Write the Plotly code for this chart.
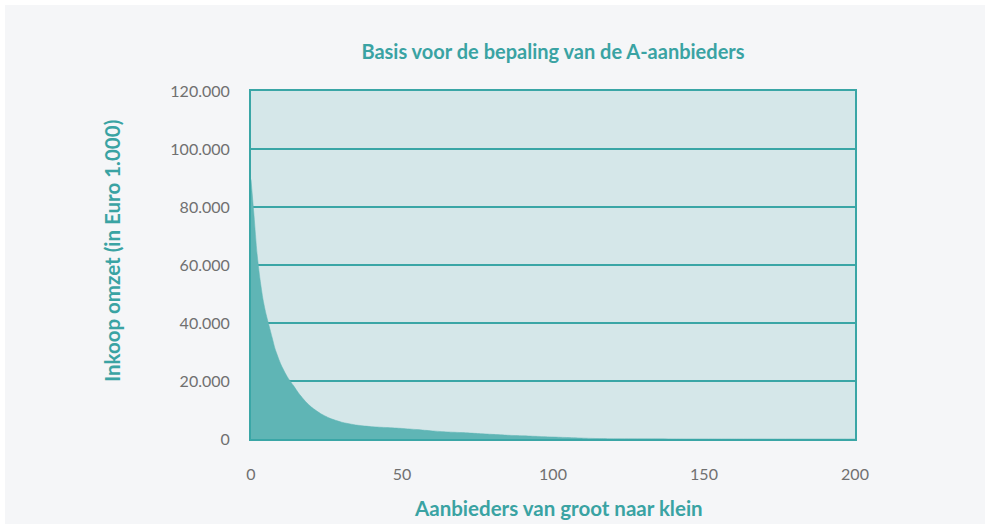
import plotly.graph_objects as go

# Data (supplier rank vs. purchase turnover in EUR 1.000)
rank = [0, 1, 2, 3, 4, 5, 6, 7, 8, 10, 12, 14, 16, 18, 20, 23, 26, 30, 35, 40,
        45, 50, 55, 60, 65, 70, 75, 80, 85, 90, 95, 100, 105, 110, 115, 120,
        140, 160, 180, 200]
turnover = [89500, 77000, 64000, 55000, 48000, 43000, 39000, 35000, 31000, 25500,
            21500, 18500, 15500, 13000, 11000, 8800, 7200, 5800, 4800, 4250,
            3950, 3650, 3250, 2800, 2450, 2200, 1900, 1600, 1300, 1100,
            900, 700, 500, 300, 150, 80, 30, 10, 5, 0]

y_ticks = [0, 20000, 40000, 60000, 80000, 100000, 120000]
y_tick_labels = ["0", "20.000", "40.000", "60.000", "80.000", "100.000", "120.000"]
x_ticks = [0, 50, 100, 150, 200]
x_tick_labels = ["0", "50", "100", "150", "200"]

title_text = "Basis voor de bepaling van de A-aanbieders"
x_title = "Aanbieders van groot naar klein"
y_title = "Inkoop omzet (in Euro 1.000)"

TEAL = "#3aa6a6"
TEXT_TEAL = "#3aa3a3"
FILL = "#5fb5b5"
PLOT_BG = "#d5e7e9"
PAGE_BG = "#f5f6f8"
TICK = "#707070"
FONT = "Lato, Open Sans, sans-serif"

fig = go.Figure()
fig.add_trace(go.Scatter(
    x=rank, y=turnover, mode="lines", fill="tozeroy",
    line=dict(color=FILL, width=0.5, shape="spline", smoothing=0.6),
    fillcolor=FILL, hoverinfo="skip", showlegend=False,
))

L, R, T, B = 251, 135, 91, 90
W, H = 990, 529
pw, ph = W - L - R, H - T - B

fig.update_layout(
    width=W, height=H,
    margin=dict(l=L, r=R, t=T, b=B),
    paper_bgcolor=PAGE_BG,
    plot_bgcolor=PLOT_BG,
    font=dict(family=FONT, size=16, color=TICK),
    title=dict(text=title_text, x=(L + pw / 2) / W, xanchor="center",
               y=1 - 52 / H, yanchor="middle",
               font=dict(family=FONT, size=20, color=TEXT_TEAL, weight="bold")),
    xaxis=dict(range=[0, 200], tickvals=x_ticks, ticktext=x_tick_labels,
               showgrid=False, zeroline=False, showline=True, mirror=True,
               linecolor=TEAL, linewidth=2, ticks="", ticklabelstandoff=20,
               tickfont=dict(size=16, color=TICK)),
    yaxis=dict(range=[0, 120000], tickvals=y_ticks, ticktext=y_tick_labels,
               showgrid=True, gridcolor=TEAL, gridwidth=1.5, zeroline=False,
               showline=True, mirror=True, linecolor=TEAL, linewidth=2,
               ticks="", ticklabelstandoff=16,
               tickfont=dict(size=16, color=TICK)),
    annotations=[
        dict(text=x_title, xref="paper", yref="paper",
             x=(558 - L) / pw, y=(H - B - 508) / ph, xanchor="center", yanchor="middle",
             showarrow=False, font=dict(family=FONT, size=20.5, color=TEXT_TEAL, weight="bold")),
        dict(text=y_title, xref="paper", yref="paper", textangle=-90,
             x=(112 - L) / pw, y=(H - B - 251) / ph, xanchor="center", yanchor="middle",
             showarrow=False, font=dict(family=FONT, size=20.5, color=TEXT_TEAL, weight="bold")),
    ],
    shapes=[
        dict(type="rect", xref="paper", yref="paper", layer="below",
             x0=-L / pw, x1=(W - L) / pw, y0=-B / ph, y1=(H - B) / ph,
             line=dict(color="white", width=10), fillcolor="rgba(0,0,0,0)"),
    ],
)

fig.write_html("out.html",
               config={"displayModeBar": False},
               post_script="document.body.style.margin='0px';document.body.style.overflow='hidden';")
